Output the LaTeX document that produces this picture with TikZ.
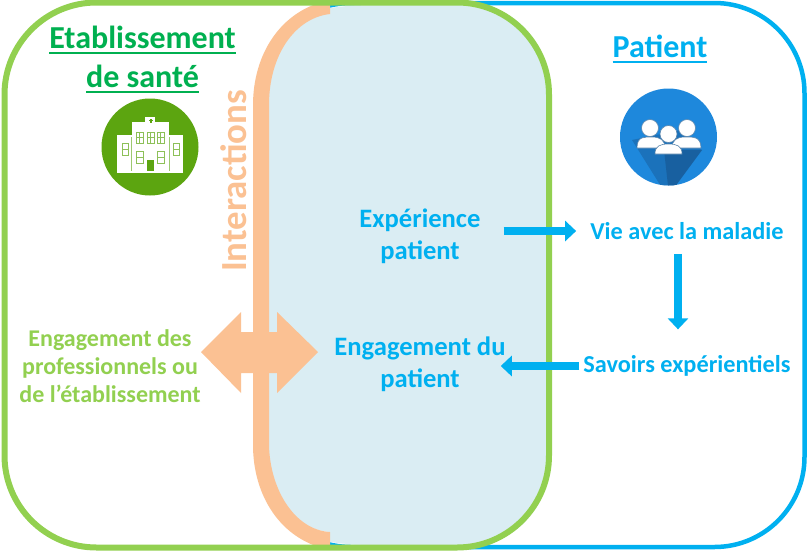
\documentclass[tikz,border=0pt]{standalone}
\usepackage{fontspec}
\setmainfont{Carlito}[BoldFont=Carlito Bold]
\newcommand\ttlline[1]{\leavevmode\setbox0=\hbox{#1}\rlap{\vrule height -3.4pt depth 6pt width \wd0}\box0}
\definecolor{gframe}{HTML}{92D050}
\definecolor{gtitle}{HTML}{00B050}
\definecolor{bframe}{HTML}{00B0F0}
\definecolor{orng}{HTML}{FBC193}
\definecolor{pale}{HTML}{DAEDF3}
\definecolor{hgreen}{HTML}{5CA510}
\definecolor{pblue}{HTML}{1E88DC}
\definecolor{pshadow}{HTML}{17538A}
\usetikzlibrary{arrows.meta}
\tikzset{
  x=1pt,y=-1pt,
  body/.style={font=\fontsize{24.3}{32}\selectfont\bfseries,align=center,inner sep=0pt},
  bluetxt/.style={body,text=bframe},
  bluebig/.style={body,text=bframe,font=\fontsize{26.6}{32}\selectfont\bfseries},
  greentxt/.style={body,text=gframe},
  titletxt/.style={font=\fontsize{32}{39}\selectfont\bfseries,align=center,inner sep=0pt},
  flow/.style={draw=bframe,line width=7.5pt,-{Triangle[length=11pt,width=20pt]}},
  bldg/.style={fill=white,draw=none},
  win/.style={draw=hgreen!70,line width=1pt,fill=white},
  person/.style={fill=white,draw=pshadow!70,line width=.6pt}
}
\begin{document}
\begin{tikzpicture}
\useasboundingbox (0,0) rectangle (807,550);
\fill[white] (0,0) rectangle (807,550);
% blue frame
\draw[bframe,line width=4.5pt,rounded corners=90pt] (261,3) rectangle (804.5,547);
% pale lens
\fill[pale] (330,8) .. controls (345,6) and (355,5.2) .. (365,5.2) -- (460,3)
  .. controls (515,3) and (549,40) .. (549,95) -- (549,455)
  .. controls (549,510) and (515,547) .. (460,547) -- (365,544.8)
  .. controls (355,544.8) and (345,544) .. (330,542) -- (330,532)
  .. controls (295,530) and (266,490) .. (265,445) -- (265,105)
  .. controls (265,55) and (295,14) .. (330,12) -- cycle;
% orange band
\fill[orng] (330,0) .. controls (280,10) and (253,55) .. (253,105) -- (253,445)
  .. controls (253,495) and (280,540) .. (330,550) -- (330,532)
  .. controls (295,530) and (270,490) .. (269,445) -- (269,105)
  .. controls (269,55) and (295,18) .. (330,14) -- cycle;
% green frame
\draw[gframe,line width=6pt,rounded corners=92pt] (4.5,2.5) rectangle (549,547.5);
% double arrow
\fill[orng] (201,352) -- (241,312) -- (241,332) -- (277,332) -- (277,312) -- (318,352)
  -- (277,393) -- (277,373) -- (241,373) -- (241,393) -- cycle;
% hospital icon
\fill[hgreen] (150,147) circle (48.5);
\fill[bldg] (117,135) rectangle (183,173);
\fill[bldg] (132,122) rectangle (169,173);
\fill[bldg] (145,117) rectangle (155,124);
\fill[hgreen] (149.5,118.5) rectangle (151.5,122.5);
\fill[hgreen] (148.5,119.7) rectangle (152.5,121.3);
\draw[hgreen!60,line width=.7pt] (131.5,137) -- (131.5,171) (169,137) -- (169,171);
\foreach \wx in {136,147,157}{\draw[win] (\wx,132) rectangle ++(7,11) (\wx+3.5,132) -- ++(0,11) (\wx,137.5) -- ++(7,0);}
\foreach \wx in {136,157}{\draw[win] (\wx,151) rectangle ++(7,12) (\wx,157) -- ++(7,0);}
\foreach \wx in {122,173}{\draw[win] (\wx,143) rectangle ++(6,12) (\wx,149) -- ++(6,0);}
\fill[hgreen] (147,160) rectangle (154,171);
% patient icon
\fill[pblue] (668.5,137) circle (48.5);
\begin{scope}
\clip (668.5,137) circle (48.5);
\fill[pshadow,opacity=.4] (632,140) -- (662,188) -- (674,188) -- (702,150) -- (680,130) -- cycle;
\fill[pshadow,opacity=.55] (664,150) -- (702,150) -- (674,188) -- (668,186) -- cycle;
\end{scope}
\fill[person] (650,128) circle (8.5);
\fill[person] (687,128) circle (8.5);
\fill[person] (637,148) .. controls (637,136) and (645,137) .. (652,137) .. controls (660,137) and (665,140) .. (665,148) -- cycle;
\fill[person] (672,148) .. controls (672,140) and (677,137) .. (685,137) .. controls (692,137) and (701,136) .. (701,148) -- cycle;
\fill[person] (668.5,134) circle (8.5);
\fill[person] (655,154) .. controls (655,146) and (660,144) .. (668.5,144) .. controls (677,144) and (682,146) .. (682,154) -- cycle;
% texts
\node[titletxt,text=gtitle] (etab) at (142.5,40) {\ttlline{Etablissement}};
\node[titletxt,text=gtitle] (sante) at (142.5,79) {\ttlline{de santé}};
\node[titletxt,text=bframe] (pat) at (660,49) {\ttlline{Patient}};
\node[rotate=90,font=\fontsize{36.8}{37}\selectfont\bfseries,text=orng,inner sep=0pt] (inter) at (234,181) {Interactions};
\node[bluebig] (exp) at (420,236.5) {Expérience\\patient};
\node[bluebig] (eng) at (420,364.5) {Engagement du\\patient};
\node[bluetxt] (vie) at (687,231) {Vie avec la maladie};
\node[bluetxt] (sav) at (687,366) {Savoirs expérientiels};
\node[greentxt,font=\fontsize{24}{28}\selectfont\bfseries] (pro) at (110,366) {Engagement des\\professionnels ou\\de l’établissement};
% connectors
\draw[flow,shorten <=23pt,shorten >=14pt] (exp.east |- vie.west) -- (vie.west);
\draw[flow] ([xshift=-9pt,yshift=-14pt]vie.south) -- ([xshift=-9pt,yshift=26pt]sav.north);
\draw[flow] ([xshift=-4pt]sav.west) -- ([xshift=-5pt]eng.east |- sav.west);
\end{tikzpicture}
\end{document}
